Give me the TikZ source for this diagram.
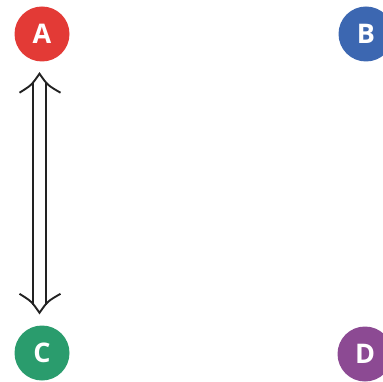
\documentclass[tikz,border=0pt]{standalone}
\usepackage{fontspec}
\setmainfont{Open Sans}
\usetikzlibrary{calc}
\definecolor{redA}{HTML}{E33A36}
\definecolor{blueB}{HTML}{3C67B1}
\definecolor{greenC}{HTML}{2A9C6D}
\definecolor{purpleD}{HTML}{8C4A93}
\definecolor{ink}{HTML}{222222}
\tikzset{
  badge/.style={circle, minimum size=55pt, inner sep=0pt, text=white,
    font=\fontsize{27}{27}\selectfont\bfseries},
  rail/.style={draw=ink, line width=1.9pt},
  barb/.style={draw=ink, line width=1.9pt, line join=miter, miter limit=20}
}
\begin{document}
\begin{tikzpicture}[x=1pt,y=-1pt]
\useasboundingbox (0,0) rectangle (382,382);
\node[badge, fill=redA]    (a) at (42,34)  {A};
\node[badge, fill=blueB]   (b) at (366,34) {B};
\node[badge, fill=greenC]  (c) at (42,353) {C};
\node[badge, fill=purpleD] (d) at (365,354) {D};
% two-way double arrow between A and C
\coordinate (up) at ($(a.south)+(-2.5,12)$);
\coordinate (dn) at ($(c.north)+(-2.5,-12.5)$);
\draw[rail] ($(up)+(-6.5,8)$) -- ($(dn)+(-6.5,-8)$);
\draw[rail] ($(up)+(6.5,8)$) -- ($(dn)+(6.5,-8)$);
\draw[barb] ($(up)+(-20,19)$) .. controls ($(up)+(-8,11.5)$) .. (up)
            .. controls ($(up)+(8,11.5)$) .. ($(up)+(21,19)$);
\draw[barb] ($(dn)+(-20,-19)$) .. controls ($(dn)+(-8,-11.5)$) .. (dn)
            .. controls ($(dn)+(8,-11.5)$) .. ($(dn)+(21,-19)$);
\end{tikzpicture}
\end{document}
